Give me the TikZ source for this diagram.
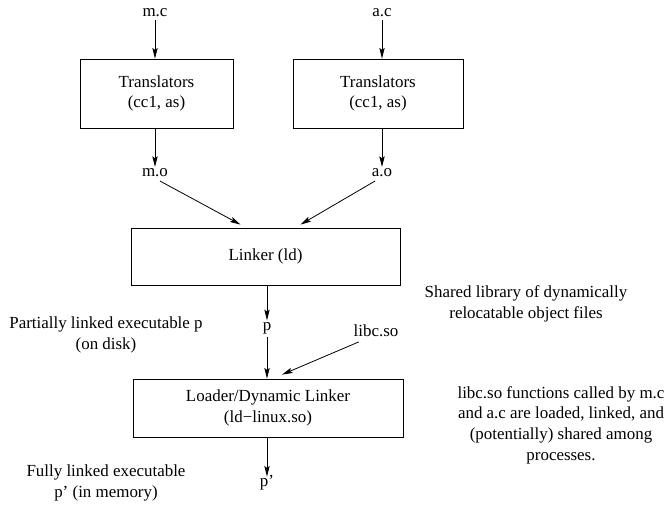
\documentclass[tikz,border=0pt]{standalone}
\usepackage{fontspec}
\setmainfont{Liberation Serif}
\usetikzlibrary{arrows.meta,calc}
\begin{document}
\begin{tikzpicture}[x=0.75pt,y=-0.75pt,
    font=\fontsize{12.7}{15.5}\selectfont,
    blk/.style={draw,line width=0.6pt,align=center,inner sep=0pt},
    lbl/.style={align=center,inner sep=2pt},
    arr/.style={line width=0.6pt,-{Stealth[length=8pt,width=4pt,inset=1.5pt]}}]
    \useasboundingbox (0,0) rectangle (668,507);
    % sources and translators
    \node[lbl] (mc) at (155,13) {m.c};
    \node[lbl] (ac) at (382,13) {a.c};
    \node[blk,minimum width=114.75pt,minimum height=51.75pt] (tr1) at (156.5,93.5) {Translators\\(cc1, as)};
    \node[blk,minimum width=127.5pt,minimum height=51.75pt] (tr2) at (378,93.5) {Translators\\(cc1, as)};
    \node[lbl] (mo) at (155,173) {m.o};
    \node[lbl] (ao) at (382,173) {a.o};
    \draw[arr] (mc.south) -- (mc |- tr1.north);
    \draw[arr] (ac.south) -- (ac |- tr2.north);
    \draw[arr] (mo |- tr1.south) -- ($(mo.north)+(0,1)$);
    \draw[arr] (ao |- tr2.south) -- ($(ao.north)+(0,1)$);
    % linker
    \node[blk,minimum width=201.75pt,minimum height=42.75pt] (linker) at (265.5,256.5) {Linker (ld)};
    \draw[arr] ($(mo.south)+(5,1)$) -- ($(linker.north)+(-25,-3)$);
    \draw[arr] ($(ao.south)+(-7,1)$) -- ($(linker.north)+(35,-3)$);
    \node[lbl] (p) at (267,328) {p};
    \node[lbl] (libc) at (376,331) {libc.so};
    \draw[arr] (p |- linker.south) -- ($(p.north)+(0,1)$);
    % loader
    \node[blk,minimum width=202.5pt,minimum height=43.5pt] (loader) at (268,408) {Loader/Dynamic Linker\\(ld\textminus linux.so)};
    \draw[arr] (p.south) -- (p |- loader.north);
    \draw[arr] ($(libc.south west)+(8,2)$) -- ($(loader.north)+(14,-4)$);
    \node[lbl] (pp) at (267,483) {p'};
    \draw[arr] (pp |- loader.south) -- ($(pp.north)+(0,4)$);
    % side notes
    \node[lbl] (partial) at (106,335) {Partially linked executable p\\(on disk)};
    \node[lbl] (full) at (106,483) {Fully linked executable\\p' (in memory)};
    \node[lbl] (shared) at (526,304) {Shared library of dynamically\\relocatable object files};
    \node[lbl] (funcs) at (561,425) {libc.so functions called by m.c\\and a.c are loaded, linked, and\\(potentially) shared among\\processes.};
\end{tikzpicture}
\end{document}
